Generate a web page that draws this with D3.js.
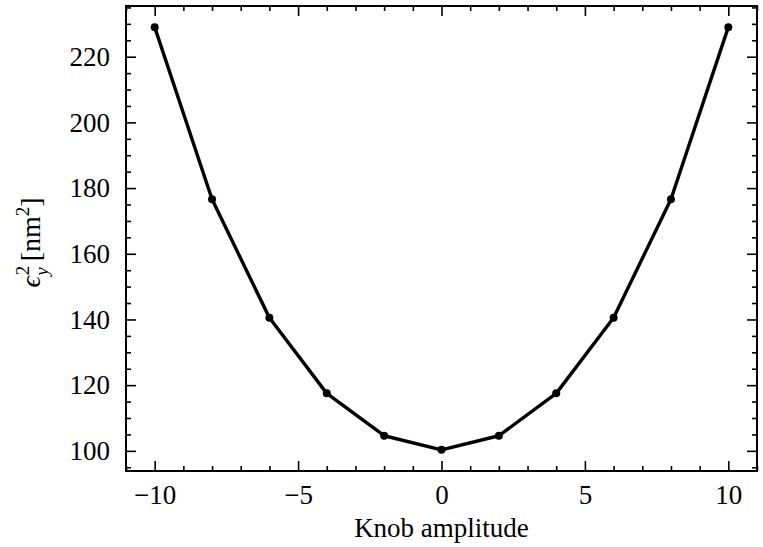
<!DOCTYPE html>
<html>
<head>
<meta charset="utf-8">
<script src="https://cdn.jsdelivr.net/npm/d3@7"></script>
<style>
  body { margin: 0; background: #fff; }
  text { font-family: "Liberation Serif", "DejaVu Serif", serif; }
</style>
</head>
<body>
<div id="chart"></div>
<script>
// data
var amplitude = [-10, -8, -6, -4, -2, 0, 2, 4, 6, 8, 10];
var emittance = [229.0, 176.6, 140.5, 117.5, 104.6, 100.3, 104.6, 117.5, 140.5, 176.6, 229.0];
var xTicks = [-10, -5, 0, 5, 10];
var yTicks = [100, 120, 140, 160, 180, 200, 220];

var margin = {top: 6, right: 6, bottom: 76, left: 126},
  width = 763 - margin.left - margin.right,
  height = 547 - margin.top - margin.bottom;

var svg = d3.select("#chart")
  .append("svg")
    .attr("width", 763)
    .attr("height", 547)
  .append("g")
    .attr("transform", "translate(" + margin.left + "," + margin.top + ")");

// matplotlib-like 5% margins
function padded(ext) {
  var m = (ext[1] - ext[0]) * 0.05;
  return [ext[0] - m, ext[1] + m];
}

var x = d3.scaleLinear().domain(padded(d3.extent(amplitude))).range([0, width]);
var y = d3.scaleLinear().domain(padded(d3.extent(emittance))).range([height, 0]);

var xMinor = d3.range(-11, 12, 1).filter(function(v) { return xTicks.indexOf(v) < 0; });
var yMinor = d3.range(95, 236, 5).filter(function(v) { return yTicks.indexOf(v) < 0; });

var fmt = function(d) { return d < 0 ? "\u2212" + Math.abs(d) : String(d); };

function styleAxis(g) {
  g.select(".domain").remove();
  g.selectAll(".tick line").attr("stroke", "#000").attr("stroke-width", 1.6);
  g.selectAll(".tick text").attr("font-size", 27).attr("fill", "#000")
    .style("font-family", "'Liberation Serif', serif");
}

// major + minor ticks, inward on all sides
svg.append("g").attr("transform", "translate(0," + height + ")")
  .call(d3.axisBottom(x).tickValues(xTicks).tickSize(-10).tickPadding(14).tickFormat(fmt))
  .call(styleAxis);
svg.append("g").attr("transform", "translate(0," + height + ")")
  .call(d3.axisBottom(x).tickValues(xMinor).tickSize(-5).tickFormat(""))
  .call(styleAxis);
svg.append("g")
  .call(d3.axisTop(x).tickValues(xTicks).tickSize(-10).tickFormat(""))
  .call(styleAxis);
svg.append("g")
  .call(d3.axisTop(x).tickValues(xMinor).tickSize(-5).tickFormat(""))
  .call(styleAxis);

svg.append("g")
  .call(d3.axisLeft(y).tickValues(yTicks).tickSize(-10).tickPadding(16))
  .call(styleAxis);
svg.append("g")
  .call(d3.axisLeft(y).tickValues(yMinor).tickSize(-5).tickFormat(""))
  .call(styleAxis);
svg.append("g").attr("transform", "translate(" + width + ",0)")
  .call(d3.axisRight(y).tickValues(yTicks).tickSize(-10).tickFormat(""))
  .call(styleAxis);
svg.append("g").attr("transform", "translate(" + width + ",0)")
  .call(d3.axisRight(y).tickValues(yMinor).tickSize(-5).tickFormat(""))
  .call(styleAxis);

// frame
svg.append("rect")
  .attr("width", width).attr("height", height)
  .attr("fill", "none").attr("stroke", "#000").attr("stroke-width", 2);

var pts = amplitude.map(function(a, i) { return [a, emittance[i]]; });

svg.append("path")
  .datum(pts)
  .attr("fill", "none")
  .attr("stroke", "#000")
  .attr("stroke-width", 3.4)
  .attr("stroke-linejoin", "round")
  .attr("d", d3.line().x(function(d) { return x(d[0]); }).y(function(d) { return y(d[1]); }));

svg.selectAll("circle.pt")
  .data(pts)
  .join("circle")
    .attr("class", "pt")
    .attr("cx", function(d) { return x(d[0]); })
    .attr("cy", function(d) { return y(d[1]); })
    .attr("r", 4)
    .attr("fill", "#000");

// x label
svg.append("text")
  .attr("x", width / 2)
  .attr("y", height + 66)
  .attr("text-anchor", "middle")
  .attr("font-size", 27)
  .text("Knob amplitude");

// y label: ϵ_y^2 [nm^2]
var yl = svg.append("text")
  .attr("transform", "translate(-86," + (height / 2 + 4) + ") rotate(-90)")
  .attr("text-anchor", "middle")
  .attr("font-size", 28);
yl.append("tspan").attr("font-style", "italic").text("\u03F5");
yl.append("tspan").attr("font-size", 19).attr("dx", 1).attr("dy", -11).text("2");
yl.append("tspan").attr("font-size", 19).attr("font-style", "italic").attr("dx", -10).attr("dy", 19).text("y");
yl.append("tspan").attr("dx", 6).attr("dy", -8).text("[nm");
yl.append("tspan").attr("font-size", 19).attr("dy", -11).text("2");
yl.append("tspan").attr("dy", 11).text("]");
</script>
</body>
</html>
